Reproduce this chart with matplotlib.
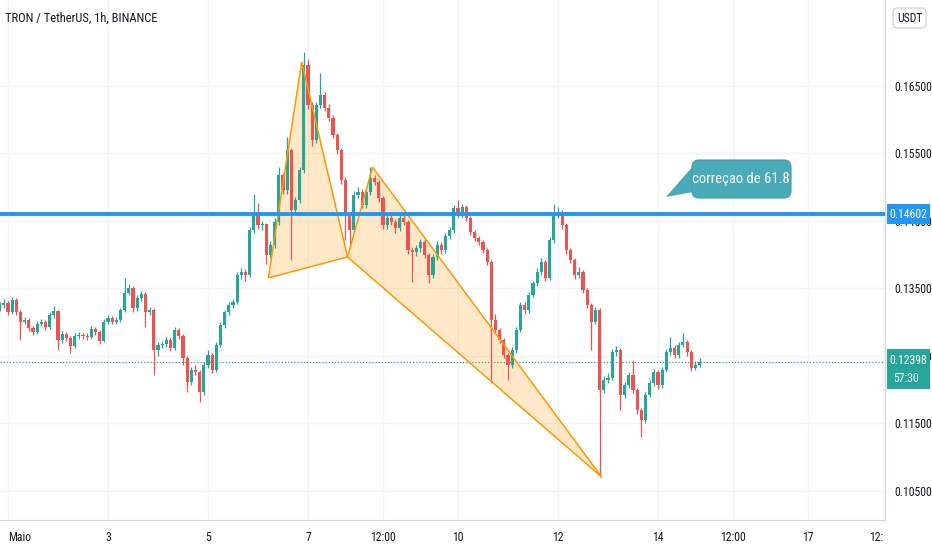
import numpy as np
import matplotlib
matplotlib.use("Agg")
import matplotlib.pyplot as plt
from matplotlib import font_manager
from matplotlib.patches import FancyBboxPatch, Polygon
from matplotlib.transforms import IdentityTransform

# ---- data: TRX/USDT, 2h candles starting Apr 30 20:00 (hours from May 1 00:00) ----
first_open = 0.1320
closes = [
    0.1325, 0.1328, 0.1314, 0.1332, 0.1314, 0.1300, 0.1303, 0.1291, 0.1285, 0.1297,
    0.1300, 0.1292, 0.1310, 0.1316, 0.1273, 0.1282, 0.1276, 0.1264, 0.1279, 0.1280,
    0.1279, 0.1277, 0.1289, 0.1285, 0.1272, 0.1300, 0.1306, 0.1300, 0.1303, 0.1317,
    0.1343, 0.1350, 0.1320, 0.1335, 0.1341, 0.1314, 0.1317, 0.1258, 0.1266, 0.1267,
    0.1273, 0.1261, 0.1288, 0.1279, 0.1246, 0.1211, 0.1229, 0.1226, 0.1196, 0.1236,
    0.1251, 0.1229, 0.1266, 0.1295, 0.1314, 0.1325, 0.1329, 0.1369, 0.1374, 0.1369,
    0.1436, 0.1458, 0.1443, 0.1445, 0.1399, 0.1414, 0.1448, 0.1517, 0.1495, 0.1554,
    0.1466, 0.1480, 0.1525, 0.1680, 0.1621, 0.1569, 0.1621, 0.1636, 0.1617, 0.1602,
    0.1577, 0.1554, 0.1510, 0.1458, 0.1436, 0.1488, 0.1492, 0.1473, 0.1492, 0.1513,
    0.1507, 0.1483, 0.1443, 0.1454, 0.1448, 0.1439, 0.1454, 0.1448, 0.1406, 0.1403,
    0.1409, 0.1418, 0.1399, 0.1369, 0.1396, 0.1414, 0.1406, 0.1427, 0.1436, 0.1469,
    0.1458, 0.1470, 0.1454, 0.1433, 0.1424, 0.1418, 0.1406, 0.1389, 0.1303, 0.1288,
    0.1273, 0.1251, 0.1236, 0.1258, 0.1288, 0.1325, 0.1317, 0.1340, 0.1357, 0.1374,
    0.1389, 0.1365, 0.1421, 0.1458, 0.1463, 0.1443, 0.1406, 0.1392, 0.1369, 0.1374,
    0.1347, 0.1325, 0.1300, 0.1317, 0.1199, 0.1214, 0.1217, 0.1255, 0.1258, 0.1192,
    0.1206, 0.1221, 0.1199, 0.1169, 0.1154, 0.1192, 0.1209, 0.1226, 0.1206, 0.1229,
    0.1255, 0.1261, 0.1251, 0.1266, 0.1270, 0.1255, 0.1232, 0.1236, 0.12398,
]
highs = [
    0.1330, 0.1333, 0.1331, 0.1337, 0.1335, 0.1317, 0.1307, 0.1306, 0.1294, 0.1301,
    0.1304, 0.1303, 0.1314, 0.1323, 0.1318, 0.1287, 0.1285, 0.1279, 0.1283, 0.1285,
    0.1284, 0.1283, 0.1293, 0.1292, 0.1288, 0.1304, 0.1310, 0.1309, 0.1307, 0.1321,
    0.1365, 0.1356, 0.1353, 0.1339, 0.1346, 0.1344, 0.1322, 0.1320, 0.1270, 0.1272,
    0.1278, 0.1276, 0.1292, 0.1291, 0.1282, 0.1249, 0.1233, 0.1236, 0.1229, 0.1240,
    0.1258, 0.1254, 0.1270, 0.1299, 0.1318, 0.1330, 0.1334, 0.1374, 0.1380, 0.1378,
    0.1440, 0.1490, 0.1476, 0.1450, 0.1446, 0.1419, 0.1453, 0.1529, 0.1521, 0.1574,
    0.1558, 0.1485, 0.1530, 0.1700, 0.1690, 0.1625, 0.1626, 0.1668, 0.1641, 0.1622,
    0.1606, 0.1580, 0.1558, 0.1514, 0.1462, 0.1493, 0.1500, 0.1496, 0.1497, 0.1529,
    0.1518, 0.1510, 0.1486, 0.1462, 0.1458, 0.1452, 0.1459, 0.1458, 0.1451, 0.1411,
    0.1414, 0.1423, 0.1422, 0.1402, 0.1400, 0.1419, 0.1418, 0.1431, 0.1441, 0.1473,
    0.1480, 0.1475, 0.1473, 0.1457, 0.1436, 0.1427, 0.1421, 0.1409, 0.1392, 0.1312,
    0.1291, 0.1276, 0.1254, 0.1262, 0.1292, 0.1329, 0.1330, 0.1344, 0.1361, 0.1379,
    0.1394, 0.1392, 0.1425, 0.1474, 0.1470, 0.1466, 0.1446, 0.1410, 0.1395, 0.1381,
    0.1377, 0.1350, 0.1328, 0.1322, 0.1320, 0.1220, 0.1224, 0.1259, 0.1264, 0.1261,
    0.1211, 0.1226, 0.1243, 0.1202, 0.1172, 0.1196, 0.1213, 0.1230, 0.1229, 0.1233,
    0.1259, 0.1278, 0.1265, 0.1270, 0.1284, 0.1273, 0.1258, 0.1242, 0.1246,
]
lows = [
    0.1316, 0.1321, 0.1310, 0.1311, 0.1310, 0.1273, 0.1296, 0.1287, 0.1280, 0.1282,
    0.1293, 0.1288, 0.1289, 0.1306, 0.1258, 0.1268, 0.1272, 0.1254, 0.1261, 0.1275,
    0.1275, 0.1273, 0.1274, 0.1281, 0.1267, 0.1270, 0.1296, 0.1296, 0.1297, 0.1300,
    0.1314, 0.1339, 0.1315, 0.1316, 0.1331, 0.1292, 0.1310, 0.1221, 0.1250, 0.1261,
    0.1263, 0.1256, 0.1258, 0.1275, 0.1236, 0.1196, 0.1207, 0.1221, 0.1181, 0.1192,
    0.1232, 0.1224, 0.1226, 0.1262, 0.1291, 0.1310, 0.1320, 0.1326, 0.1364, 0.1360,
    0.1366, 0.1432, 0.1438, 0.1436, 0.1385, 0.1395, 0.1410, 0.1444, 0.1490, 0.1490,
    0.1392, 0.1460, 0.1476, 0.1520, 0.1615, 0.1560, 0.1565, 0.1617, 0.1612, 0.1597,
    0.1572, 0.1549, 0.1504, 0.1421, 0.1410, 0.1432, 0.1483, 0.1468, 0.1469, 0.1488,
    0.1502, 0.1478, 0.1437, 0.1438, 0.1443, 0.1432, 0.1435, 0.1443, 0.1400, 0.1359,
    0.1398, 0.1404, 0.1394, 0.1358, 0.1365, 0.1392, 0.1401, 0.1402, 0.1423, 0.1432,
    0.1453, 0.1454, 0.1449, 0.1428, 0.1420, 0.1414, 0.1402, 0.1384, 0.1210, 0.1283,
    0.1268, 0.1246, 0.1214, 0.1232, 0.1254, 0.1285, 0.1312, 0.1313, 0.1336, 0.1353,
    0.1370, 0.1360, 0.1362, 0.1417, 0.1453, 0.1438, 0.1401, 0.1387, 0.1364, 0.1365,
    0.1342, 0.1320, 0.1258, 0.1296, 0.1070, 0.1195, 0.1209, 0.1213, 0.1250, 0.1169,
    0.1187, 0.1202, 0.1194, 0.1164, 0.1130, 0.1150, 0.1188, 0.1205, 0.1201, 0.1202,
    0.1225, 0.1251, 0.1247, 0.1247, 0.1262, 0.1250, 0.1227, 0.1228, 0.1233,
]
start_hour = -4
step_hours = 2

# XABCD pattern points (hour, price)
pattern_hours = [125, 141, 163, 175, 285]
pattern_prices = [0.1365, 0.1685, 0.1396, 0.1529, 0.1070]

level_price = 0.14602
last_price = 0.12398
countdown = "57:30"
callout_text = "correçao de 61.8"

tick_hours = [0, 48, 96, 144, 180, 216, 264, 312, 348, 384, 420]
tick_labels = ["Maio", "3", "5", "7", "12:00", "10", "12", "14", "12:00", "17", "12:"]
price_ticks = [0.105, 0.115, 0.125, 0.135, 0.145, 0.155, 0.165]

UP = "#26a69a"
DOWN = "#ef5350"
GRID = "#f0f3fa"
TXT = "#131722"

# narrow face like the screenshot, first one that is installed
installed = {f.name for f in font_manager.fontManager.ttflist}
wanted = ["Liberation Sans Narrow", "Roboto Condensed", "Archivo Narrow", "PT Sans Narrow",
          "Open Sans Condensed", "Barlow Condensed", "Liberation Sans"]
face = next((n for n in wanted if n in installed), "DejaVu Sans")
plt.rcParams["font.family"] = [face, "DejaVu Sans"]

W, H = 932, 550
fig = plt.figure(figsize=(W / 100, H / 100), dpi=100)
fig.patch.set_facecolor("white")
ax = fig.add_axes([0, 30 / H, 885 / W, 520 / H])

closes = np.array(closes)
highs = np.array(highs)
lows = np.array(lows)
opens = np.concatenate([[first_open], closes[:-1]])
t = start_hour + step_hours * np.arange(len(closes))
up = closes >= opens
cols = np.where(up, UP, DOWN)

ax.vlines(t, lows, highs, colors=cols, linewidth=0.9, zorder=3)
ax.bar(t, np.maximum(np.abs(closes - opens), 0.00008), bottom=np.minimum(opens, closes),
       width=1.5, color=cols, linewidth=0, zorder=4)

# harmonic pattern triangles
ph, pp = pattern_hours, pattern_prices
for idx in ([0, 1, 2], [2, 3, 4]):
    pts = [(ph[i], pp[i]) for i in idx]
    ax.add_patch(Polygon(pts, closed=True, facecolor="#ff9800", alpha=0.22,
                         edgecolor="none", zorder=2))
    ax.add_patch(Polygon(pts, closed=True, facecolor="none", edgecolor="#ff9800",
                         linewidth=1.1, zorder=5))

# horizontal level and last price line
ax.axhline(level_price, color="#2196f3", linewidth=2.8, zorder=6)
ax.axhline(last_price, color=UP, linewidth=0.9, linestyle=(0, (1, 1.5)), zorder=1)

ax.set_xlim(-3.84, 421)
ax.set_ylim(0.17767 - 520 / 6750, 0.17767)
ax.set_xticks(tick_hours)
ax.set_xticklabels(tick_labels)
ax.set_yticks(price_ticks)
ax.yaxis.tick_right()
ax.set_yticklabels([f"{p:.5f}" for p in price_ticks])
ax.tick_params(axis="both", length=0, labelsize=8.5, colors=TXT)
ax.tick_params(axis="y", pad=7)
ax.tick_params(axis="x", pad=8)
ax.get_xticklabels()[0].set_horizontalalignment("left")
ax.get_xticklabels()[-1].set_horizontalalignment("right")
ax.grid(True, color=GRID, linewidth=1)
ax.set_axisbelow(True)
for s in ["top", "left"]:
    ax.spines[s].set_visible(False)
ax.spines["bottom"].set_color("#d1d4dc")
ax.spines["right"].set_color("#d1d4dc")

# title
fig.text(5 / W, 1 - 18 / H, "TRON / TetherUS, 1h, BINANCE", fontsize=9, color=TXT,
         va="center", ha="left")

# right axis labels (pixel space, origin at top-left of reference)
idt = IdentityTransform()


def box(x0, y0, x1, y1, color, **kw):
    fig.patches.append(FancyBboxPatch((x0, H - y1), x1 - x0, y1 - y0, transform=idt,
                                      figure=fig, **kw, facecolor=color))


box(887, 204, 930, 224, "#2196f3", boxstyle="square,pad=0", linewidth=0)
fig.text(908 / W, 1 - 214 / H, f"{level_price:.5f}", color="white", fontsize=8.5,
         ha="center", va="center")
box(887, 349, 930, 389, UP, boxstyle="square,pad=0", linewidth=0)
fig.text(908 / W, 1 - 361 / H, f"{last_price:.5f}", color="white", fontsize=8.5,
         ha="center", va="center")
fig.text(893 / W, 1 - 378 / H, countdown, color="white", fontsize=8.5,
         ha="left", va="center")

box(893, 8, 926, 28, "white", boxstyle="round,pad=0,rounding_size=4",
    edgecolor="#c8cbd2", linewidth=0.8)
fig.text(909.5 / W, 1 - 18 / H, "USDT", color=TXT, fontsize=8.5, ha="center", va="center")

# callout
tail = Polygon([(693, H - 166), (666, H - 197), (704, H - 190)], closed=True,
               transform=idt, facecolor="#4aabb8", edgecolor="none")
fig.patches.append(tail)
box(692, 160, 791, 198, "#4aabb8", boxstyle="round,pad=0,rounding_size=7",
    edgecolor="#3f9ea9", linewidth=0.8)
fig.text(741 / W, 1 - 179 / H, callout_text, color="white", fontsize=10.5,
         ha="center", va="center")

fig.savefig("out.png", dpi=100)
